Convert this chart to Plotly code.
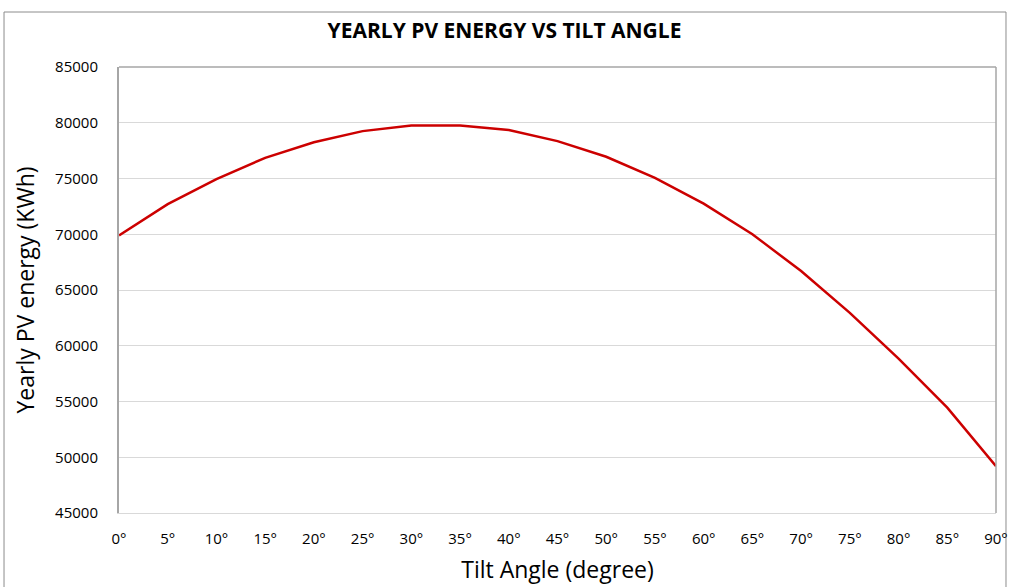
import plotly.graph_objects as go

# data
tilt_deg = [0, 5, 10, 15, 20, 25, 30, 35, 40, 45, 50, 55, 60, 65, 70, 75, 80, 85, 90]
energy_kwh = [69900, 72700, 74950, 76850, 78250, 79250, 79750, 79750, 79350, 78350,
              76950, 75050, 72750, 70000, 66700, 62950, 58850, 54450, 49200]
tick_labels = [f"{d}°" for d in tilt_deg]
y_ticks = [45000, 50000, 55000, 60000, 65000, 70000, 75000, 80000, 85000]

FONT = "'Open Sans', sans-serif"
TEXT = "#000000"
GRID = "#d9d9d9"

fig = go.Figure()
fig.add_trace(go.Scatter(
    x=tilt_deg,
    y=energy_kwh,
    mode="lines",
    line=dict(color="#cc0000", width=2.5),
    hoverinfo="x+y",
))

# outer chart border (Excel-style chart area)
fig.add_shape(
    type="rect", xref="paper", yref="paper",
    x0=-0.1311, x1=1.0114, y0=-0.2, y1=1.1233,
    line=dict(color="#8c8c8c", width=1), fillcolor="rgba(0,0,0,0)",
    layer="below",
)

fig.update_layout(
    width=1009,
    height=587,
    margin=dict(l=119, r=13, t=67, b=74, autoexpand=False),
    paper_bgcolor="white",
    plot_bgcolor="white",
    font=dict(family=FONT, color=TEXT, size=15),
    showlegend=False,
    title=dict(
        text="<b>YEARLY PV ENERGY VS TILT ANGLE</b>",
        x=0.5, xref="container", xanchor="center",
        y=0.947, yref="container", yanchor="middle",
        font=dict(family=FONT, size=21, color=TEXT),
    ),
    xaxis=dict(
        range=[0, 90],
        tickvals=tilt_deg,
        ticktext=tick_labels,
        showgrid=False,
        zeroline=False,
        showline=True,
        linecolor=GRID,
        linewidth=1,
        ticks="",
        automargin=False,
        ticklabelstandoff=12,
        tickfont=dict(size=15),
        title=dict(text="Tilt Angle (degree)", font=dict(size=23), standoff=14),
    ),
    yaxis=dict(
        range=[45000, 85000],
        tickvals=y_ticks,
        tickformat="d",
        showgrid=True,
        gridcolor=GRID,
        gridwidth=1,
        zeroline=False,
        showline=True,
        linecolor="#a6a6a6",
        linewidth=2,
        ticks="",
        automargin=False,
        ticklabelstandoff=16,
        tickfont=dict(size=15),
        title=dict(text="Yearly PV energy (KWh)", font=dict(size=23), standoff=14),
    ),
)

# right and top plot-area border
fig.add_shape(type="line", xref="paper", yref="paper", x0=1, x1=1, y0=0, y1=1,
              line=dict(color="#a6a6a6", width=1.5))
fig.add_shape(type="line", xref="paper", yref="paper", x0=0, x1=1, y0=1, y1=1,
              line=dict(color="#a6a6a6", width=1.5))

fig.write_html("out.html", config={"displayModeBar": False},
               post_script="document.body.style.margin = '0';")
